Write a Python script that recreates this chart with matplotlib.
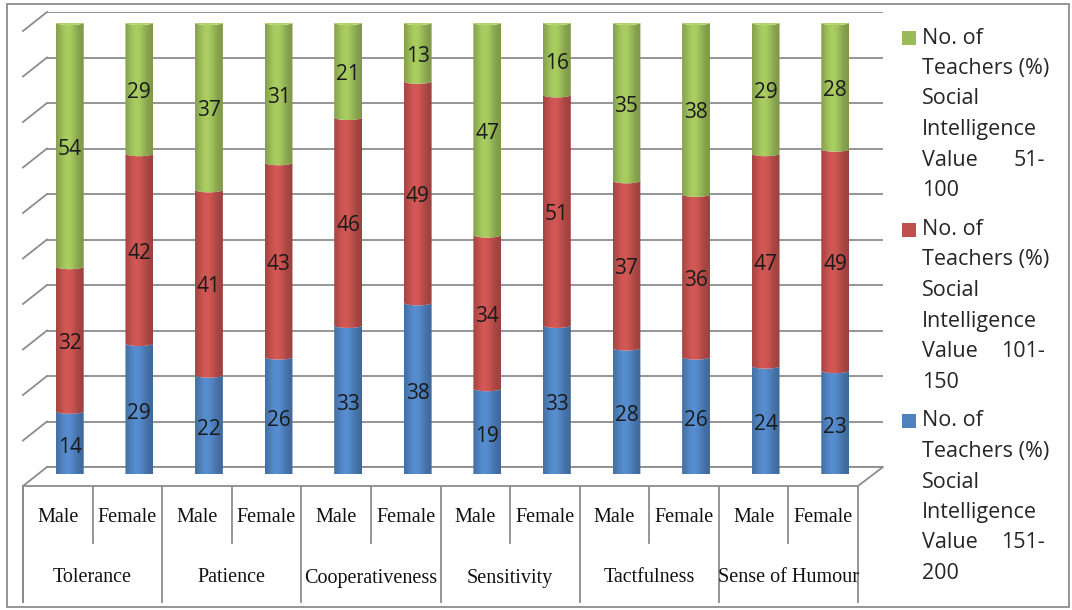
import matplotlib
matplotlib.use('Agg')
import matplotlib.pyplot as plt
import numpy as np
from matplotlib.patches import Polygon, Ellipse, Rectangle
from matplotlib.colors import to_rgb

# ---------------- data ----------------
groups = ['Tolerance', 'Patience', 'Cooperativeness', 'Sensitivity',
          'Tactfulness', 'Sense of Humour']
genders = ['Male', 'Female']
v151_200 = [14, 29, 22, 26, 33, 38, 19, 33, 28, 26, 24, 23]
v101_150 = [32, 42, 41, 43, 46, 49, 34, 51, 37, 36, 47, 49]
v51_100 = [54, 29, 37, 31, 21, 13, 47, 16, 35, 38, 29, 28]
series = [v151_200, v101_150, v51_100]
series_colors = ['#4F81BD', '#C0504D', '#9BBB59']
# legend labels (wrapped as in the reference), top entry first
legend_lines = [
    ['No. of', 'Teachers (%)', 'Social', 'Intelligence', ('Value', '51-'), '100'],
    ['No. of', 'Teachers (%)', 'Social', 'Intelligence', ('Value', '101-'), '150'],
    ['No. of', 'Teachers (%)', 'Social', 'Intelligence', ('Value', '151-'), '200'],
]
legend_colors = ['#9BBB59', '#C0504D', '#4F81BD']
y_ticks = list(range(0, 101, 10))

W, H = 1072, 610
fig = plt.figure(figsize=(W / 100, H / 100), dpi=100)
fig.patch.set_facecolor('white')


def ax_px(l, t, r, b, z):
    a = fig.add_axes([l / W, 1 - b / H, (r - l) / W, (b - t) / H])
    a.set_zorder(z)
    a.patch.set_visible(False)
    return a


GRID = '#8c8c8c'

# decoration axes in pixel coordinates
deco = ax_px(0, 0, W, H, 0)
deco.set_xlim(0, W)
deco.set_ylim(H, 0)
deco.axis('off')

# back wall with gridlines
BW_L, BW_T, BW_R, BW_B = 47, 12, 883, 467
wall = ax_px(BW_L, BW_T, BW_R, BW_B, 1)
wall.set_xlim(0, 1)
wall.set_ylim(0, 100)
wall.set_yticks(y_ticks)
wall.set_xticks([])
wall.tick_params(left=False, labelleft=False)
wall.grid(True, axis='y', color=GRID, lw=1.3)
for s in wall.spines.values():
    s.set_visible(False)

# depth offsets (front plane vs back wall)
DX, DY = 24, 19
FL, FR, FB = BW_L - DX, 858, BW_B + DY

# left wall stubs
for v in y_ticks:
    yb = BW_B - v * (BW_B - BW_T) / 100
    deco.plot([FL, BW_L], [yb + DY, yb], color=GRID, lw=1.3)

# floor
deco.plot([BW_L, BW_R, FR, FL], [BW_B, BW_B, FB, FB], color=GRID, lw=1.3)

# category table
n = len(v51_100)
slot = (FR - FL) / n
TB_MID, TB_BOT = 543, 602
deco.plot([FL, FL], [FB, TB_BOT], color=GRID, lw=1.3)
for g in range(len(groups) + 1):
    x = FL + 2 * g * slot
    deco.plot([x, x], [FB, TB_BOT], color=GRID, lw=1.3)
for g in range(len(groups)):
    x = FL + (2 * g + 1) * slot
    deco.plot([x, x], [FB, TB_MID], color=GRID, lw=1.3)
for i in range(n):
    deco.text(FL + (i + 0.5) * slot, 518, genders[i % 2], ha='center', va='center',
              fontsize=14.5, family='Liberation Serif', color='#111111')
for g, name in enumerate(groups):
    deco.text(FL + (2 * g + 1) * slot, 578, name, ha='center', va='center',
              fontsize=14.5, family='Liberation Serif', color='#111111')

# outer border
deco.add_patch(Rectangle((7, 4), 1062, 603, fill=False, ec=GRID, lw=1.3))

# ---------------- bars (cylinders) ----------------
bars = ax_px(FL + 12, 22.5, FR + 12, 474.5, 2)
bars.set_xlim(-0.5, n - 0.5)
bars.set_ylim(0, 100)
bars.axis('off')

bw = 0.40          # bar width in slot units
eh = 1.15          # ellipse height in value units
tt = np.linspace(0, 1, 64)
shade = 0.80 + 0.30 * np.exp(-((tt - 0.42) / 0.34) ** 2)


def arc(c, y):
    t = np.linspace(np.pi, 2 * np.pi, 40)
    return np.column_stack([c + bw / 2 * np.cos(t), y + eh / 2 * np.sin(t)])


for i in range(n):
    base = 0.0
    for vals, col in zip(series, series_colors):
        v = vals[i]
        y0, y1 = base, base + v
        poly = np.vstack([arc(i, y0), arc(i, y1)[::-1]])
        patch = Polygon(poly, closed=True, fc='none', ec='none')
        bars.add_patch(patch)
        rgb = np.array(to_rgb(col))
        img = np.clip(shade[None, :, None] * rgb[None, None, :], 0, 1)
        im = bars.imshow(img, extent=(i - bw / 2, i + bw / 2, y0 - eh, y1 + eh),
                         aspect='auto', interpolation='bilinear', zorder=2)
        im.set_clip_path(patch)
        bars.text(i, (y0 + y1) / 2 - 1.0, str(v), ha='center', va='center',
                  fontsize=15, family='Open Sans', color='#1a1a1a', zorder=5)
        base = y1
    # top cap
    top_rgb = np.array(to_rgb(series_colors[-1]))
    cap = np.clip(top_rgb * 1.08 + 0.04, 0, 1)
    bars.add_patch(Ellipse((i, base), bw, eh, fc=cap, ec='none', zorder=3))

bars.set_xlim(-0.5, n - 0.5)
bars.set_ylim(0, 100)

# ---------------- legend ----------------
LX_SQ, LX_TXT, LX_RIGHT = 902, 922, 1045
entry_y = [38, 229.5, 421]
line_gap = 30.5
for lines, col, y0 in zip(legend_lines, legend_colors, entry_y):
    deco.add_patch(Rectangle((LX_SQ, y0 - 7), 14, 14, fc=col, ec='none'))
    for k, ln in enumerate(lines):
        y = y0 + k * line_gap
        if isinstance(ln, tuple):
            deco.text(LX_TXT, y, ln[0], ha='left', va='center', fontsize=15.5,
                      family='Open Sans', color='#262626')
            deco.text(LX_RIGHT, y, ln[1], ha='right', va='center', fontsize=15.5,
                      family='Open Sans', color='#262626')
        else:
            deco.text(LX_TXT, y, ln, ha='left', va='center', fontsize=15.5,
                      family='Open Sans', color='#262626')

fig.savefig('out.png', dpi=100, facecolor='white')
